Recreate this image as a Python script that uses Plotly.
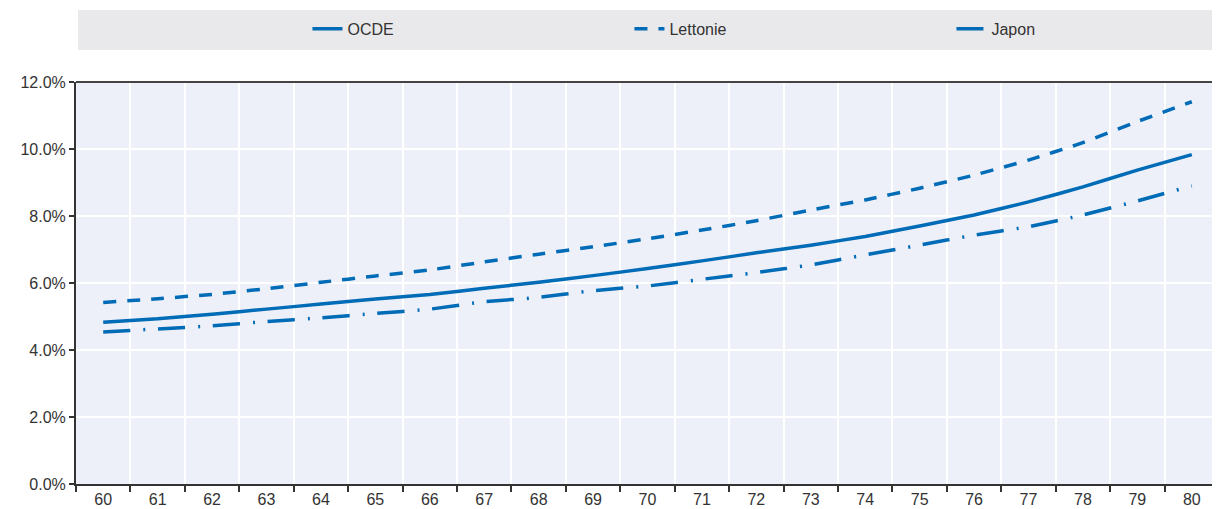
import plotly.graph_objects as go

ages = [str(a) for a in range(60, 81)]
ocde = [4.83, 4.93, 5.07, 5.22, 5.37, 5.52, 5.66, 5.84, 6.02, 6.22, 6.43, 6.66, 6.90,
        7.13, 7.39, 7.70, 8.03, 8.42, 8.87, 9.37, 9.83]
lettonie = [5.42, 5.53, 5.66, 5.83, 6.02, 6.21, 6.39, 6.63, 6.86, 7.08, 7.32, 7.58, 7.86,
            8.18, 8.48, 8.83, 9.22, 9.67, 10.19, 10.82, 11.41]
japon = [4.54, 4.63, 4.72, 4.85, 4.96, 5.09, 5.22, 5.44, 5.57, 5.77, 5.91, 6.11, 6.31,
         6.54, 6.84, 7.13, 7.43, 7.68, 8.03, 8.45, 8.90]
y_ticks = [0, 2, 4, 6, 8, 10, 12]
y_labels = ["0.0%", "2.0%", "4.0%", "6.0%", "8.0%", "10.0%", "12.0%"]

blue = "#006BB6"
font_family = "Liberation Sans, Arial, sans-serif"

fig = go.Figure()
fig.add_trace(go.Scatter(x=ages, y=ocde, name="OCDE", mode="lines",
                         line=dict(color=blue, width=3.5, shape="spline", smoothing=0.4)))
fig.add_trace(go.Scatter(x=ages, y=lettonie, name="Lettonie", mode="lines",
                         line=dict(color=blue, width=3.5, dash="13px,11px",
                                   shape="spline", smoothing=0.4)))
fig.add_trace(go.Scatter(x=ages, y=japon, name="Japon", mode="lines",
                         line=dict(color=blue, width=3.5, dash="27px,13px,2px,13px",
                                   shape="spline", smoothing=0.4)))

fig.update_layout(
    width=1212, height=501,
    margin=dict(l=68, r=1, t=74, b=25, autoexpand=False),
    paper_bgcolor="white",
    plot_bgcolor="#EDF0F8",
    font=dict(family=font_family, size=16, color="#333333"),
    showlegend=True,
    legend=dict(orientation="h", x=0.2025, xanchor="left", y=1.132, yanchor="middle",
                bgcolor="rgba(0,0,0,0)",
                entrywidth=277, entrywidthmode="pixels",
                font=dict(family=font_family, size=16, color="#333333")),
    shapes=[
        dict(type="rect", xref="paper", yref="paper", x0=0.00175, x1=1.001, y0=1.0796, y1=1.179,
             fillcolor="#E9E9EB", line=dict(width=0), layer="below"),
        dict(type="line", xref="paper", yref="paper", x0=0, x1=1, y0=1, y1=1,
             line=dict(color="#444444", width=2)),
    ],
)

fig.update_xaxes(type="category", range=[-0.5, 20.5], tickson="boundaries",
                 showgrid=True, gridcolor="white", gridwidth=2,
                 showline=True, linecolor="#333333", linewidth=2,
                 ticks="outside", ticklen=6, tickcolor="#333333", tickwidth=2,
                 tickfont=dict(size=16, color="#333333"), zeroline=False, automargin=False)
fig.update_yaxes(range=[0, 12], tickvals=y_ticks, ticktext=y_labels,
                 showgrid=True, gridcolor="white", gridwidth=2,
                 showline=True, linecolor="#333333", linewidth=2,
                 ticks="outside", ticklen=5, tickcolor="#333333", tickwidth=2,
                 tickfont=dict(size=16, color="#333333"), zeroline=False, automargin=False)

fig.write_html("out.html")
